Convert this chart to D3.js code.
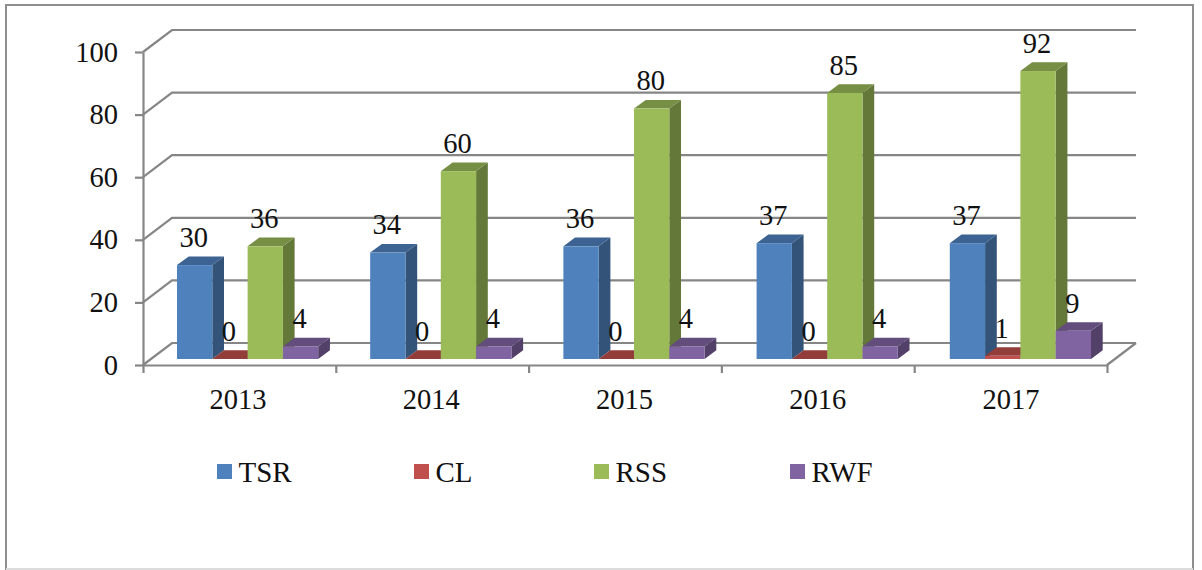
<!DOCTYPE html>
<html>
<head>
<meta charset="utf-8">
<style>
  html, body { margin: 0; background: #fff; }
  svg { display: block; }
  text { font-family: "Liberation Serif", serif; fill: #111; }
  .axis path, .axis line, .grid-line { stroke: #868686; stroke-width: 2.2; fill: none; }
  .axis text { font-size: 28.5px; }
</style>
</head>
<body>
<div id="chart"></div>
<script src="https://cdn.jsdelivr.net/npm/d3@7"></script>
<script>
const years = ['2013', '2014', '2015', '2016', '2017']
const seriesNames = ['TSR', 'CL', 'RSS', 'RWF']
const seriesColors = ['#4f81bd', '#c0504d', '#9bbb59', '#8064a2']
const tsrValues = [30, 34, 36, 37, 37]
const clValues = [0, 0, 0, 0, 1]
const rssValues = [36, 60, 80, 85, 92]
const rwfValues = [4, 4, 4, 4, 9]
const yTicks = [0, 20, 40, 60, 80, 100]
const legendX = [217, 414, 594, 790]

const seriesValues = [tsrValues, clValues, rssValues, rwfValues]

const width = 1202
const height = 570

// Front edge of the floor, and how far the back wall is shifted from it
const plot = { left: 143, right: 1107, top: 52, bottom: 365 }
const wall = { dx: 29, dy: 22 }
// Bars stand part way back on the floor and have their own depth
const barShift = { dx: 8, dy: 6 }
const barDepth = { dx: 11.7, dy: 8.7 }

const svg = d3.select('#chart')
  .append('svg')
  .attr('width', width)
  .attr('height', height)

// Outer frame
svg.append('rect')
  .attr('x', 6)
  .attr('y', 5)
  .attr('width', 1187)
  .attr('height', 564)
  .attr('fill', '#fff')
  .attr('stroke', '#8e8e8e')
  .attr('stroke-width', 2)

svg.append('line')
  .attr('x1', 6)
  .attr('x2', 1193)
  .attr('y1', 569)
  .attr('y2', 569)
  .attr('stroke', '#dcdcdc')
  .attr('stroke-width', 2)

// The bars step a touch wider than the axis ticks in the picture
const xScale = d3.scaleBand()
  .domain(years)
  .range([plot.left, plot.right + 2])
  .paddingInner(0.269)
  .paddingOuter(0.1345)

const seriesScale = d3.scaleBand()
  .domain(seriesNames)
  .range([0, xScale.bandwidth()])

const yScale = d3.scaleLinear()
  .domain([0, 100])
  .range([plot.bottom, plot.top])

// Gridlines: up the side wall, then along the back wall
svg.append('g')
  .selectAll('path')
  .data(yTicks)
  .join('path')
  .attr('class', 'grid-line')
  .attr('d', (d) => {
    const y = yScale(d)
    const path = d3.path()
    path.moveTo(plot.left, y)
    path.lineTo(plot.left + wall.dx, y - wall.dy)
    path.lineTo(plot.right + wall.dx, y - wall.dy)
    return path.toString()
  })

// Right edge of the floor
svg.append('line')
  .attr('class', 'grid-line')
  .attr('x1', plot.right)
  .attr('y1', plot.bottom)
  .attr('x2', plot.right + wall.dx)
  .attr('y2', plot.bottom - wall.dy)

const yAxisCall = d3.axisLeft(yScale)
  .tickValues(yTicks)
  .tickSize(8)
  .tickSizeOuter(0)
  .tickPadding(17)

svg.append('g')
  .attr('class', 'y axis')
  .attr('transform', `translate(${plot.left}, 0)`)
  .call(yAxisCall)
  .attr('font-family', null)
  .attr('font-size', null)

// Bottom axis ticks sit on the category boundaries, so use a scale of edges
const edgeScale = d3.scaleLinear()
  .domain([0, years.length])
  .range([plot.left, plot.right])

const xAxisCall = d3.axisBottom(edgeScale)
  .tickValues(d3.range(years.length + 1))
  .tickSize(8)
  .tickSizeOuter(0)
  .tickFormat('')

svg.append('g')
  .attr('class', 'x axis')
  .attr('transform', `translate(0, ${plot.bottom})`)
  .call(xAxisCall)

svg.append('g')
  .attr('class', 'axis')
  .selectAll('text')
  .data(years)
  .join('text')
  .attr('x', (d) => xScale(d) + xScale.bandwidth() / 2 - 1.5)
  .attr('y', 408.5)
  .attr('text-anchor', 'middle')
  .text((d) => d)

// Bars, category by category so nearer faces overlap properly
const barBase = plot.bottom - barShift.dy
const barScale = (v) => yScale(v) - barShift.dy

const points = (list) => list.map((p) => p.join(',')).join(' ')

years.forEach((year, i) => {
  const group = svg.append('g').attr('class', 'year-group')

  seriesNames.forEach((name, s) => {
    const value = seriesValues[s][i]
    const color = seriesColors[s]
    const x0 = xScale(year) + seriesScale(name) + barShift.dx
    const x1 = x0 + seriesScale.bandwidth()
    const top = barScale(value)

    // Side face
    group.append('polygon')
      .attr('points', points([
        [x1, barBase],
        [x1 + barDepth.dx, barBase - barDepth.dy],
        [x1 + barDepth.dx, top - barDepth.dy],
        [x1, top]
      ]))
      .attr('fill', d3.color(color).darker(1.25))

    // Top face
    group.append('polygon')
      .attr('points', points([
        [x0, top],
        [x0 + barDepth.dx, top - barDepth.dy],
        [x1 + barDepth.dx, top - barDepth.dy],
        [x1, top]
      ]))
      .attr('fill', d3.color(color).darker(0.75))

    // Front face
    group.append('rect')
      .attr('x', x0)
      .attr('y', top)
      .attr('width', x1 - x0)
      .attr('height', barBase - top)
      .attr('fill', color)
  })
})

// Value labels go on last so no bar hides them
years.forEach((year, i) => {
  seriesNames.forEach((name, s) => {
    const value = seriesValues[s][i]
    svg.append('text')
      .attr('class', 'value-label')
      .attr('x', xScale(year) + seriesScale(name) + seriesScale.bandwidth() / 2 + barShift.dx - 1)
      .attr('y', barScale(value) - barDepth.dy - 9.5)
      .attr('text-anchor', 'middle')
      .attr('font-size', 28.5)
      .text(value)
  })
})

// Legend
const legend = svg.append('g')
  .selectAll('g')
  .data(seriesNames)
  .join('g')
  .attr('transform', (d, i) => `translate(${legendX[i]}, 464)`)

legend.append('rect')
  .attr('width', 15)
  .attr('height', 15)
  .attr('fill', (d, i) => seriesColors[i])

legend.append('text')
  .attr('x', 21.5)
  .attr('y', 18)
  .attr('font-size', 29)
  .text((d) => d)
</script>
</body>
</html>
